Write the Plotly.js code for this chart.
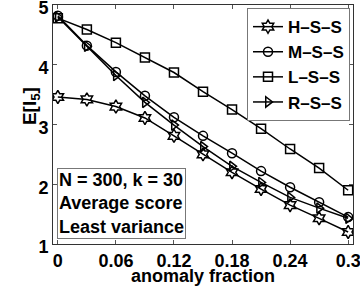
<!DOCTYPE html>
<html>
<head>
<meta charset="utf-8">
<script src="https://cdn.plot.ly/plotly-3.0.1.min.js"></script>
<style>html,body{margin:0;padding:0;background:#fff;}#chart{width:360px;height:286px;}</style>
</head>
<body>
<div id="chart"></div>
<script>
var fractions = [0, 0.03, 0.06, 0.09, 0.12, 0.15, 0.18, 0.21, 0.24, 0.27, 0.30];
var hss = [3.46, 3.42, 3.30, 3.11, 2.81, 2.50, 2.20, 1.92, 1.65, 1.43, 1.20];
var mss = [4.82, 4.32, 3.88, 3.48, 3.12, 2.81, 2.52, 2.22, 1.95, 1.70, 1.45];
var lss = [4.78, 4.59, 4.37, 4.12, 3.87, 3.55, 3.25, 2.93, 2.59, 2.27, 1.90];
var rss = [4.80, 4.31, 3.82, 3.37, 2.99, 2.63, 2.30, 2.03, 1.78, 1.60, 1.43];
var seriesNames = ['H–S–S', 'M–S–S', 'L–S–S', 'R–S–S'];
var seriesSymbols = ['hexagram-open', 'circle-open', 'square-open', 'triangle-right-open'];
var xTicks = [0, 0.06, 0.12, 0.18, 0.24, 0.3];
var xTickText = ['0', '0.06', '0.12', '0.18', '0.24', '0.3'];
var yTicks = [1, 2, 3, 4, 5];
var infoLines = ['N = 300, k = 30', 'Average score', 'Least variance'];
var yTitle = 'E[I<sub>5</sub>]';

var allSeries = [hss, mss, lss, rss];
var traces = allSeries.map(function (vals, i) {
  return {
    x: fractions, y: vals, name: seriesNames[i], type: 'scatter', mode: 'lines+markers',
    line: {color: '#000', width: 1.5},
    marker: {symbol: seriesSymbols[i], size: i === 0 ? 10 : 9, color: '#000', line: {color: '#000', width: 1.5}}
  };
});

var fontFam = 'Liberation Sans, Arial, Helvetica, sans-serif';
var layout = {
  width: 360, height: 286,
  margin: {l: 53, r: 7, t: 5, b: 42},
  paper_bgcolor: '#fff', plot_bgcolor: '#fff',
  font: {family: fontFam, size: 18, color: '#000', weight: 'bold'},
  showlegend: true,
  legend: {
    x: 0.99, y: 0.987, xanchor: 'right', yanchor: 'top',
    bgcolor: '#fff', bordercolor: '#777', borderwidth: 1,
    font: {family: fontFam, size: 17, color: '#000', weight: 'bold'},
    itemwidth: 30, tracegroupgap: 0
  },
  xaxis: {
    range: [-0.005, 0.305], tickvals: xTicks, ticktext: xTickText,
    ticks: 'inside', ticklen: 4, tickcolor: '#555', showgrid: false, zeroline: false,
    showline: true, linecolor: '#333', linewidth: 1, mirror: 'ticks',
    ticklabeloverflow: 'allow',
    tickfont: {family: fontFam, size: 18, weight: 'bold'},
    title: {text: 'anomaly fraction', font: {family: fontFam, size: 18, weight: 'bold'}, standoff: 3}
  },
  yaxis: {
    range: [1, 5], tickvals: yTicks,
    ticks: 'inside', ticklen: 4, tickcolor: '#555', showgrid: false, zeroline: false,
    showline: true, linecolor: '#333', linewidth: 1, mirror: 'ticks',
    ticklabeloverflow: 'allow', ticklabelshift: 3,
    tickfont: {family: fontFam, size: 18, weight: 'bold'}
  },
  annotations: [{
    xref: 'paper', yref: 'paper', x: 0.013, y: 0.318, xanchor: 'left', yanchor: 'top',
    text: infoLines.join('<br>'), align: 'left', showarrow: false,
    bgcolor: '#fff', bordercolor: '#777', borderwidth: 1, borderpad: 1,
    font: {family: fontFam, size: 18, color: '#000', weight: 'bold'}
  }, {
    xref: 'paper', yref: 'paper', x: -0.075, y: 0.575, xanchor: 'center', yanchor: 'middle',
    text: yTitle, textangle: -90, showarrow: false,
    font: {family: fontFam, size: 19, color: '#000', weight: 'bold'}
  }]
};
Plotly.newPlot('chart', traces, layout, {staticPlot: true, displayModeBar: false});
</script>
</body>
</html>
